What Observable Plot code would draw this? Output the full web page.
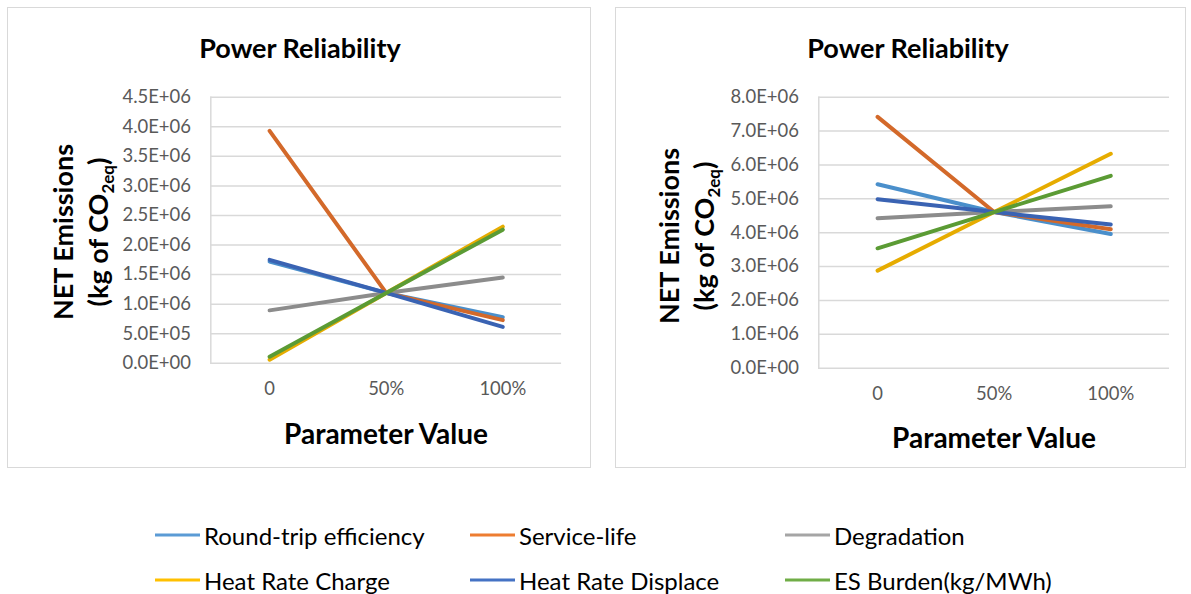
<!DOCTYPE html>
<html>
<head>
<meta charset="utf-8">
<script src="https://cdn.jsdelivr.net/npm/d3@7"></script>
<script src="https://cdn.jsdelivr.net/npm/@observablehq/plot@0.6"></script>
<style>
  html, body { margin: 0; padding: 0; background: #fff; }
  #root { position: relative; width: 1191px; height: 594px; font-family: Lato, "Open Sans", sans-serif; overflow: hidden; }
  .panel { position: absolute; border: 1px solid #d9d9d9; box-sizing: border-box; }
  .panel svg { position: absolute; left: 0; top: 0; }
  .title { position: absolute; font-weight: bold; font-size: 27px; color: #000; transform: translate(-50%, -50%); white-space: nowrap; }
  .ytitle { position: absolute; font-weight: bold; font-size: 27px; color: #000; transform: translate(-50%, -50%) rotate(-90deg); white-space: nowrap; }
  .ytitle sub { font-size: 17px; vertical-align: -6px; line-height: 0; }
  .xtitle { position: absolute; font-weight: bold; font-size: 28px; color: #000; transform: translate(-50%, -50%); white-space: nowrap; }
  .leg { position: absolute; display: flex; align-items: center; font-size: 24px; color: #000; transform: translateY(-50%); white-space: nowrap; }
  .leg .sw { width: 45px; height: 3px; margin-right: 4px; }
</style>
</head>
<body>
<div id="root"></div>
<script>
// ---- data ----
const params = ["0", "50%", "100%"];
const seriesNames = ["Round-trip efficiency", "Service-life", "Degradation", "Heat Rate Charge", "Heat Rate Displace", "ES Burden(kg/MWh)"];
const chartColors = ["#4a8fcb", "#d3692a", "#8c8c8c", "#e6ac00", "#3a63b3", "#5b9b34"];
const legendColors = ["#5b9bd5", "#ed7d31", "#a5a5a5", "#ffc000", "#4472c4", "#70ad47"];

// left panel values (kg CO2eq)
const leftRoundTrip   = [1.72e6, 1.19e6, 0.78e6];
const leftServiceLife = [3.93e6, 1.19e6, 0.73e6];
const leftDegradation = [0.895e6, 1.19e6, 1.45e6];
const leftHRCharge    = [0.06e6, 1.19e6, 2.31e6];
const leftHRDisplace  = [1.75e6, 1.19e6, 0.615e6];
const leftESBurden    = [0.11e6, 1.19e6, 2.26e6];

// right panel values (kg CO2eq)
const rightRoundTrip   = [5.43e6, 4.61e6, 3.96e6];
const rightServiceLife = [7.42e6, 4.61e6, 4.10e6];
const rightDegradation = [4.43e6, 4.61e6, 4.78e6];
const rightHRCharge    = [2.88e6, 4.61e6, 6.33e6];
const rightHRDisplace  = [4.99e6, 4.61e6, 4.24e6];
const rightESBurden    = [3.54e6, 4.61e6, 5.68e6];

const leftTicks = [0, 5e5, 1e6, 1.5e6, 2e6, 2.5e6, 3e6, 3.5e6, 4e6, 4.5e6];
const rightTicks = [0, 1e6, 2e6, 3e6, 4e6, 5e6, 6e6, 7e6, 8e6];

const chartTitle = "Power Reliability";
const xTitle = "Parameter Value";

// ---- helpers ----
function sciFmt(v) {
  const [m, e] = v.toExponential(1).split("e");
  const sign = e[0] === "-" ? "-" : "+";
  const ex = Math.abs(+e).toString().padStart(2, "0");
  return m.toUpperCase() + "E" + sign + ex;
}
function toRows(arrays) {
  const rows = [];
  arrays.forEach((arr, i) => arr.forEach((v, j) => rows.push({series: seriesNames[i], param: params[j], value: v})));
  return rows;
}

const root = document.getElementById("root");

function panel({left, top, width, height, mLeft, mRight, mTop, mBottom, yMax, ticks, rows, titleX, yT1X, yT2X, yTY, xTY}) {
  const div = document.createElement("div");
  div.className = "panel";
  Object.assign(div.style, {left: left + "px", top: top + "px", width: width + "px", height: height + "px"});
  const chart = Plot.plot({
    width, height,
    marginLeft: mLeft, marginRight: mRight, marginTop: mTop, marginBottom: mBottom,
    style: {fontFamily: "Lato, 'Open Sans', sans-serif", fontSize: "18.5px", color: "#595959", background: "transparent"},
    x: {type: "point", domain: params, padding: 0.5, label: null},
    y: {domain: [0, yMax], label: null},
    color: {domain: seriesNames, range: chartColors},
    marks: [
      Plot.gridY(ticks, {stroke: "#d9d9d9", strokeOpacity: 1, strokeWidth: 1.5}),
      Plot.frame({anchor: "left", stroke: "#d9d9d9", strokeWidth: 1.5}),
      Plot.axisY(ticks, {tickFormat: sciFmt, tickSize: 0, tickPadding: 20, fill: "#595959"}),
      Plot.axisX({tickSize: 0, tickPadding: 19, fill: "#595959"}),
      Plot.line(rows, {x: "param", y: "value", z: "series", stroke: "series", strokeWidth: 4, strokeLinecap: "round", strokeLinejoin: "round"})
    ]
  });
  div.appendChild(chart);
  const t = document.createElement("div");
  t.className = "title"; t.textContent = chartTitle;
  Object.assign(t.style, {left: titleX + "px", top: "39px"});
  div.appendChild(t);
  const y1 = document.createElement("div");
  y1.className = "ytitle"; y1.textContent = "NET Emissions";
  Object.assign(y1.style, {left: yT1X + "px", top: yTY + "px"});
  div.appendChild(y1);
  const y2 = document.createElement("div");
  y2.className = "ytitle"; y2.innerHTML = "(kg of CO<sub>2eq</sub>)";
  Object.assign(y2.style, {left: yT2X + "px", top: yTY + "px"});
  div.appendChild(y2);
  const xt = document.createElement("div");
  xt.className = "xtitle"; xt.textContent = xTitle;
  Object.assign(xt.style, {left: titleX + 86 + "px", top: xTY + "px"});
  div.appendChild(xt);
  root.appendChild(div);
}

panel({left: 7, top: 7, width: 584, height: 461, mLeft: 203, mRight: 29, mTop: 89, mBottom: 105,
  yMax: 4.5e6, ticks: leftTicks,
  rows: toRows([leftRoundTrip, leftServiceLife, leftDegradation, leftHRCharge, leftHRDisplace, leftESBurden]),
  titleX: 292, yT1X: 54, yT2X: 89, yTY: 224, xTY: 425});

panel({left: 615, top: 7, width: 571, height: 461, mLeft: 203, mRight: 16, mTop: 89, mBottom: 100,
  yMax: 8e6, ticks: rightTicks,
  rows: toRows([rightRoundTrip, rightServiceLife, rightDegradation, rightHRCharge, rightHRDisplace, rightESBurden]),
  titleX: 292, yT1X: 52, yT2X: 87, yTY: 228, xTY: 429});

// legend
const legPos = [[155, 535], [470, 535], [785, 535], [155, 580], [470, 580], [785, 580]];
seriesNames.forEach((name, i) => {
  const d = document.createElement("div");
  d.className = "leg";
  Object.assign(d.style, {left: legPos[i][0] + "px", top: legPos[i][1] + "px"});
  const sw = document.createElement("div");
  sw.className = "sw"; sw.style.background = legendColors[i];
  const tx = document.createElement("span");
  tx.textContent = name;
  d.appendChild(sw); d.appendChild(tx);
  root.appendChild(d);
});
</script>
</body>
</html>
